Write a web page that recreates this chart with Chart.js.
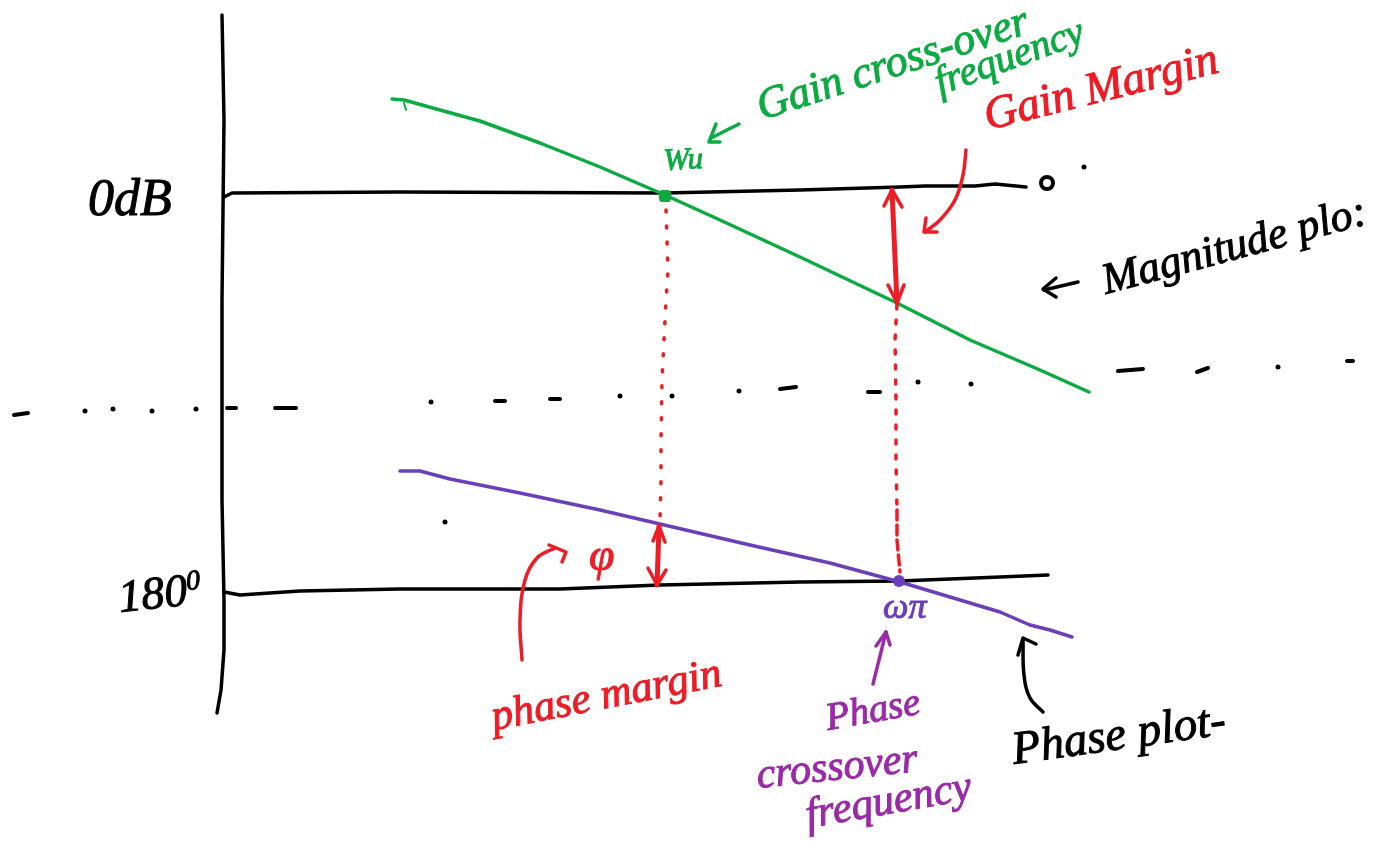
<!DOCTYPE html>
<html>
<head>
<meta charset="utf-8">
<style>
  html, body { margin: 0; padding: 0; background: #fff; overflow: hidden; }
  canvas { display: block; }
</style>
<script src="https://cdn.jsdelivr.net/npm/chart.js@4"></script>
</head>
<body>
<canvas id="myChart" width="1389" height="843"></canvas>
<script>
// Sketch, [x, y] in picture units
const axisLine = [[222,15],[224,120],[222,300],[222,500],[224,600],[224,650],[221,690],[217,713]];
const zeroDbLine = [[224,197],[232,193],[400,192],[665,193],[800,190],[900,187],[925,186],[975,186],[995,184],[1026,187]];
const phase180Line = [[224,592],[240,595],[300,591],[400,589],[560,589],[660,585],[800,582],[900,581],[1000,577],[1048,575]];
const magnitudeCurve = [[392,99],[404,100],[440,110],[480,121],[540,143],[600,167],[665,195],[720,220],[800,257],[897,303],[970,340],[1040,370],[1089,392]];
const magnitudeTick = [[404,103],[406,110]];
const phaseCurve = [[400,471],[420,471],[450,479],[520,493],[600,510],[660,524],[750,545],[830,563],[900,582],[960,600],[1000,612],[1030,625],[1050,630],[1072,637]];

// Dashed divider between the two plots
const dividerDashes = [
  [[14,415],[28,413]], [[227,408],[236,408]], [[275,408],[296,408]], [[495,401],[505,401]],
  [[550,399],[560,399]], [[780,389],[796,387]], [[868,392],[880,392]], [[1118,371],[1143,369]],
  [[1197,372],[1208,368]], [[1347,361],[1353,361]],
];
const strayDots = [[85,411],[113,409],[152,411],[196,409],[431,402],[620,396],[672,396],[739,391],[918,382],[971,384],[1278,367],[445,522],[1084,167]];

// Vertical drop lines
const gainDrop = [[666,210],[668,270],[666,300],[664,340],[662,380],[661,440],[661,480],[660,520]];
const phaseDropUpper = [[897,305],[895,340],[896,400],[896,460],[897,510]];
const phaseDropLower = [[897,510],[897,540],[900,572]];

// Arrows
const gainMarginShaft = [[892,190],[897,303]];
const gainMarginTop = [[884,206],[892,190],[902,207]];
const gainMarginBottom = [[888,285],[897,303],[904,285]];
const phaseMarginShaft = [[659,526],[657,585]];
const phaseMarginTop = [[653,541],[659,526],[665,542]];
const phaseMarginBottom = [[648,568],[657,585],[666,570]];
const gainNoteCurve = [[966,150],[963,175],[955,200],[940,220],[925,232]];
const gainNoteHead = [[926,218],[924,232],[937,232]];
const phaseNoteCurve = [[522,660],[520,620],[525,580],[537,558],[555,548]];
const phaseNoteHead = [[549,545],[566,552],[562,562]];
const crossoverShaft = [[873,684],[886,632]];
const crossoverHead = [[876,646],[886,632],[890,645]];
const phasePlotCurve = [[1043,712],[1030,698],[1024,675],[1023,640]];
const phasePlotHead = [[1018,655],[1023,638],[1036,644]];
const magPlotShaft = [[1078,282],[1044,290]];
const magPlotHead = [[1056,278],[1043,289],[1056,297]];
const wuArrowShaft = [[739,124],[711,138]];
const wuArrowHead = [[716,124],[709,142],[720,142]];

const gainCrossPoint = [[665,196]];
const phaseCrossPoint = [[899,581]];
const endCircle = [[1047,183]];

const BLACK = "#000000";
const GREEN = "#0bab42";
const RED = "#ee1c25";
const BLUE = "#6a3fb8";
const PURPLE = "#9a2aa8";

const toPoints = (list) => list.map(([x, y]) => ({ x, y }));
// отрезки с разрывами
const withGaps = (parts) => parts.flatMap((part) => [...toPoints(part), { x: null, y: null }]);

const line = (pts, color, width, extra) => ({
  data: toPoints(pts),
  borderColor: color,
  backgroundColor: color,
  borderWidth: width,
  pointRadius: 0,
  borderCapStyle: "round",
  borderJoinStyle: "round",
  ...extra,
});
const dots = (pts, color, radius, extra) => ({
  data: toPoints(pts),
  showLine: false,
  pointRadius: radius,
  pointBackgroundColor: color,
  pointBorderColor: color,
  pointBorderWidth: 0,
  ...extra,
});

const datasets = [
  line(axisLine, BLACK, 3.5),
  line(zeroDbLine, BLACK, 3.5),
  line(phase180Line, BLACK, 3.5),
  line(gainDrop, RED, 3.5, { borderDash: [2, 14] }),
  line(phaseDropUpper, RED, 3.5, { borderDash: [4, 11] }),
  line(phaseDropLower, RED, 3.5, { borderDash: [10, 5] }),
  line(magnitudeCurve, GREEN, 3.5),
  line(magnitudeTick, GREEN, 2),
  line(phaseCurve, BLUE, 3.5),
  { ...line([], BLACK, 4), data: withGaps(dividerDashes), spanGaps: false },
  dots(strayDots, BLACK, 2.5),
  line(gainMarginShaft, RED, 5),
  line(gainMarginTop, RED, 3.5),
  line(gainMarginBottom, RED, 3.5),
  line(phaseMarginShaft, RED, 5),
  line(phaseMarginTop, RED, 3.5),
  line(phaseMarginBottom, RED, 3.5),
  line(gainNoteCurve, RED, 3.5, { tension: 0.4 }),
  line(gainNoteHead, RED, 3.5),
  line(phaseNoteCurve, RED, 3.5, { tension: 0.4 }),
  line(phaseNoteHead, RED, 3.5),
  line(crossoverShaft, PURPLE, 3.5),
  line(crossoverHead, PURPLE, 3.5),
  line(phasePlotCurve, BLACK, 3.5, { tension: 0.4 }),
  line(phasePlotHead, BLACK, 3.5),
  line(magPlotShaft, BLACK, 3.5),
  line(magPlotHead, BLACK, 3.5),
  line(wuArrowShaft, GREEN, 3.5),
  line(wuArrowHead, GREEN, 3.5),
  dots(gainCrossPoint, GREEN, 7, { pointStyle: "rectRounded" }),
  dots(phaseCrossPoint, BLUE, 6),
  dots(endCircle, BLACK, 6, { pointBackgroundColor: "transparent", pointBorderWidth: 4 }),
].reverse(); // Chart.js рисует первый набор сверху

// Подписи от руки
const notes = [
  { text: "0dB", x: 88, y: 215, size: 52, angle: 0, color: BLACK },
  { text: "180", x: 120, y: 612, size: 46, angle: -6, color: BLACK },
  { text: "0", x: 187, y: 590, size: 28, angle: -6, color: BLACK },
  { text: "Gain cross-over", x: 762, y: 120, size: 44, angle: -18, color: GREEN },
  { text: "frequency", x: 940, y: 95, size: 40, angle: -20, color: GREEN },
  { text: "Wu", x: 664, y: 170, size: 31, angle: -3, color: GREEN },
  { text: "Gain Margin", x: 988, y: 130, size: 46, angle: -14, color: RED },
  { text: "Magnitude plo:", x: 1106, y: 294, size: 44, angle: -15, color: BLACK },
  { text: "φ", x: 589, y: 570, size: 46, angle: 0, color: RED },
  { text: "phase margin", x: 494, y: 730, size: 43, angle: -11, color: RED },
  { text: "ωπ", x: 883, y: 618, size: 36, angle: 0, color: BLUE },
  { text: "Phase", x: 828, y: 730, size: 39, angle: -10, color: PURPLE },
  { text: "crossover", x: 758, y: 788, size: 42, angle: -6, color: PURPLE },
  { text: "frequency", x: 808, y: 828, size: 43, angle: -10, color: PURPLE },
  { text: "Phase plot-", x: 1014, y: 764, size: 47, angle: -8, color: BLACK },
];

const notesPlugin = {
  id: "notes",
  afterDatasetsDraw(chart) {
    const { ctx, scales } = chart;
    notes.forEach((note) => {
      ctx.save();
      ctx.translate(scales.x.getPixelForValue(note.x), scales.y.getPixelForValue(note.y));
      ctx.rotate((note.angle * Math.PI) / 180);
      ctx.font = `italic ${note.size}px "Liberation Serif"`;
      ctx.fillStyle = note.color;
      ctx.strokeStyle = note.color;
      ctx.lineWidth = 1;
      ctx.textBaseline = "alphabetic";
      ctx.fillText(note.text, 0, 0);
      ctx.strokeText(note.text, 0, 0);
      ctx.restore();
    });
  },
};

const myChart = new Chart(document.getElementById("myChart"), {
  type: "line",
  data: { datasets },
  options: {
    responsive: false,
    animation: false,
    layout: { padding: 0, autoPadding: false },
    scales: {
      x: { type: "linear", min: 0, max: 1389, display: false },
      y: { type: "linear", min: 0, max: 843, reverse: true, display: false },
    },
    plugins: {
      legend: { display: false },
      tooltip: { enabled: false },
      title: { display: false },
    },
  },
  plugins: [notesPlugin],
});
</script>
</body>
</html>
